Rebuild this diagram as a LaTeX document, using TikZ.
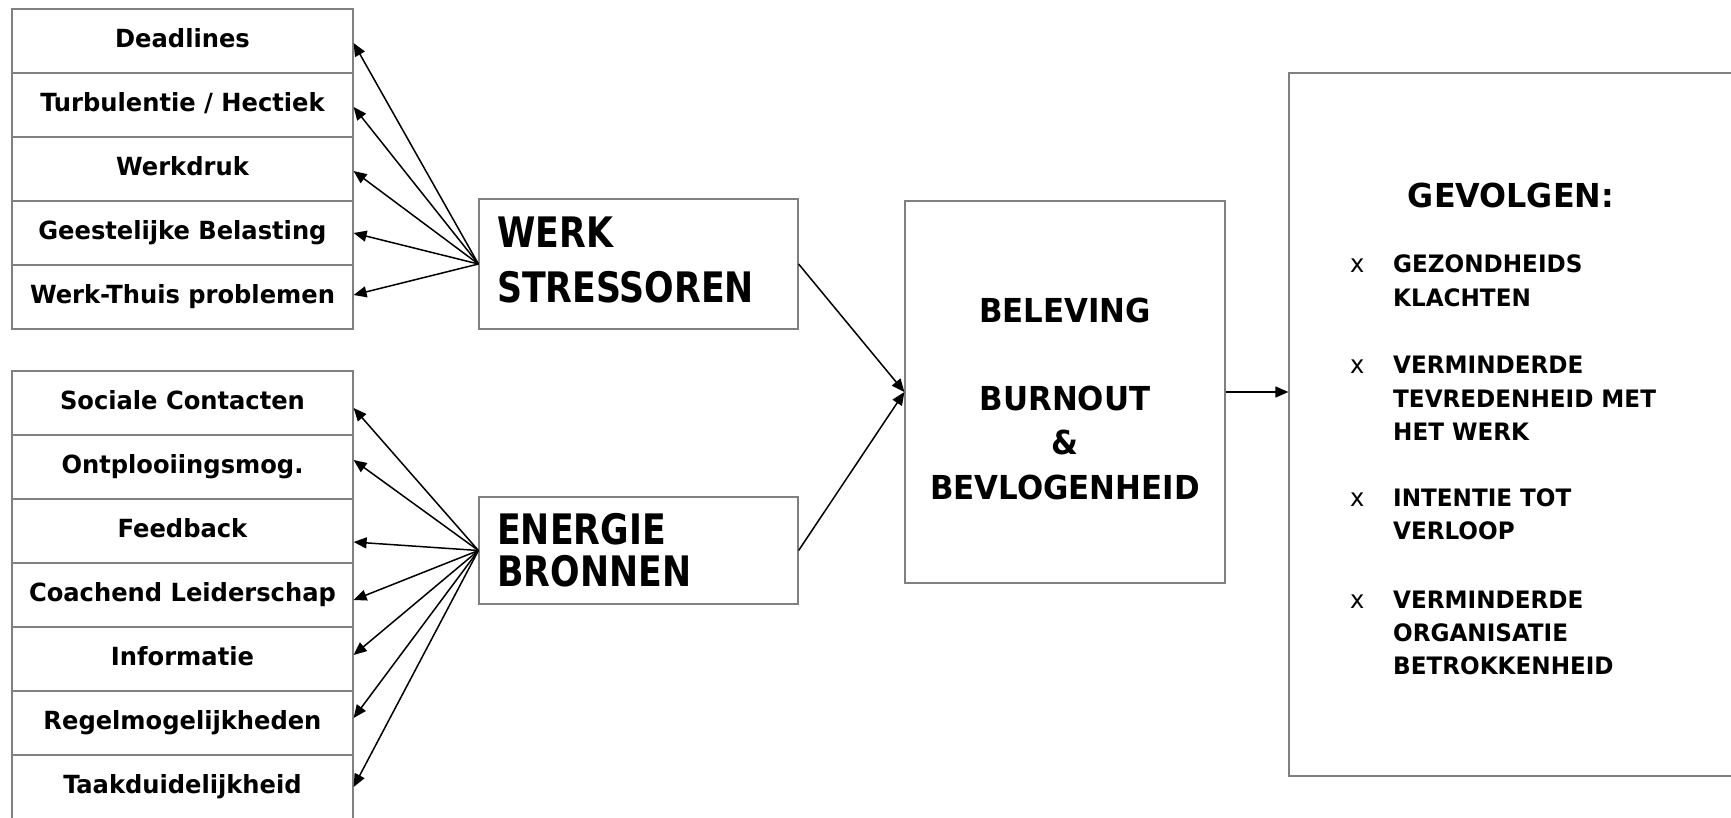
\documentclass[tikz,border=0pt]{standalone}
\usepackage{fontspec}
\usetikzlibrary{arrows.meta}
\newfontfamily\rowfont{DejaVu Sans Condensed Bold}[FakeStretch=1.075]
\newfontfamily\bigfont{DejaVu Sans Condensed Bold}[FakeStretch=0.92]
\newfontfamily\belfont{DejaVu Sans Condensed Bold}[FakeStretch=1.04]
\newfontfamily\gevfont{DejaVu Sans Condensed Bold}[FakeStretch=1.07]
\newfontfamily\xfont{DejaVu Sans Condensed}[FakeStretch=1.07]
\definecolor{boxgray}{gray}{0.5}
\begin{document}
\begin{tikzpicture}[x=1pt,y=-1pt,
  box/.style={draw=boxgray, line width=1.2pt, inner sep=0pt},
  rowbox/.style={box, minimum width=341pt, minimum height=64pt,
    font=\rowfont\fontsize{25}{30}\selectfont, text height=18pt, text depth=6pt},
  lbl/.style={inner sep=0pt, anchor=base west},
  clbl/.style={inner sep=0pt, anchor=base},
  bigf/.style={font=\bigfont\fontsize{42}{50}\selectfont},
  midf/.style={font=\belfont\fontsize{33}{40}\selectfont},
  gevf/.style={font=\gevfont\fontsize{33}{40}\selectfont},
  smf/.style={font=\gevfont\fontsize{24}{29}\selectfont},
  bulf/.style={font=\xfont\fontsize{25}{29}\selectfont},
  arr/.style={line width=1.5pt, -{Triangle[length=13pt,width=11pt]}},
]
\useasboundingbox (0,0) rectangle (1731,817);
\clip (0,0) rectangle (1731,817);

% upper stack
\node[rowbox] (s1) at (182.5,41) {Deadlines};
\node[rowbox] (s2) at (182.5,105) {Turbulentie / Hectiek};
\node[rowbox] (s3) at (182.5,169) {Werkdruk};
\node[rowbox] (s4) at (182.5,233) {Geestelijke Belasting};
\node[rowbox] (s5) at (182.5,297) {Werk-Thuis problemen};

% lower stack
\node[rowbox] (e1) at (182.5,403) {Sociale Contacten};
\node[rowbox] (e2) at (182.5,467) {Ontplooiingsmog.};
\node[rowbox] (e3) at (182.5,531) {Feedback};
\node[rowbox] (e4) at (182.5,595) {Coachend Leiderschap};
\node[rowbox] (e5) at (182.5,659) {Informatie};
\node[rowbox] (e6) at (182.5,723) {Regelmogelijkheden};
\node[rowbox] (e7) at (182.5,787) {Taakduidelijkheid};

% middle boxes
\node[box, minimum width=319pt, minimum height=130pt] (werk) at (638.5,264) {};
\node[lbl, bigf] (werk1) at (497,247) {WERK};
\node[lbl, bigf] (werk2) at (497,302) {STRESSOREN};

\node[box, minimum width=319pt, minimum height=107pt] (energie) at (638.5,550.5) {};
\node[lbl, bigf] (en1) at (497,544) {ENERGIE};
\node[lbl, bigf] (en2) at (497,586) {BRONNEN};

\node[box, minimum width=320pt, minimum height=382pt] (bel) at (1065,392) {};
\node[clbl, midf] (bel1) at (1065,322) {BELEVING};
\node[clbl, midf] (bel2) at (1065,410) {BURNOUT};
\node[clbl, midf] (bel3) at (1065,454) {\&};
\node[clbl, midf] (bel4) at (1065,499) {BEVLOGENHEID};

% right box
\node[box, minimum width=456pt, minimum height=703pt] (gev) at (1517,424.5) {};
\node[clbl, gevf] (gevt) at (1511,207) {GEVOLGEN:};
\node[lbl, bulf] (b1) at (1350,272) {x};
\node[lbl, smf] (g1a) at (1393,272) {GEZONDHEIDS};
\node[lbl, smf] (g1b) at (1393,306) {KLACHTEN};
\node[lbl, bulf] (b2) at (1350,373) {x};
\node[lbl, smf] (g2a) at (1393,373) {VERMINDERDE};
\node[lbl, smf] (g2b) at (1393,407) {TEVREDENHEID MET};
\node[lbl, smf] (g2c) at (1393,440) {HET WERK};
\node[lbl, bulf] (b3) at (1350,506) {x};
\node[lbl, smf] (g3a) at (1393,506) {INTENTIE TOT};
\node[lbl, smf] (g3b) at (1393,539) {VERLOOP};
\node[lbl, bulf] (b4) at (1350,608) {x};
\node[lbl, smf] (g4a) at (1393,608) {VERMINDERDE};
\node[lbl, smf] (g4b) at (1393,641) {ORGANISATIE};
\node[lbl, smf] (g4c) at (1393,674) {BETROKKENHEID};

% connectors
\draw[arr] (werk.west) -- ([yshift=-2pt]s1.east);
\draw[arr] (werk.west) -- ([yshift=-2pt]s2.east);
\draw[arr] (werk.west) -- ([yshift=-2pt]s3.east);
\draw[arr] (werk.west) -- (s4.east);
\draw[arr] (werk.west) -- ([yshift=2pt]s5.east);

\draw[arr] (energie.west) -- ([yshift=-5pt]e1.east);
\draw[arr] (energie.west) -- ([yshift=7pt]e2.east);
\draw[arr] (energie.west) -- ([yshift=-11pt]e3.east);
\draw[arr] (energie.west) -- ([yshift=-5pt]e4.east);
\draw[arr] (energie.west) -- ([yshift=4pt]e5.east);
\draw[arr] (energie.west) -- ([yshift=5pt]e6.east);
\draw[arr] (energie.west) -- (e7.east);

\draw[arr] (werk.east) -- (bel.west);
\draw[arr] (energie.east) -- (bel.west);
\draw[arr] (bel.east) -- (bel.east -| gev.west);
\end{tikzpicture}
\end{document}
